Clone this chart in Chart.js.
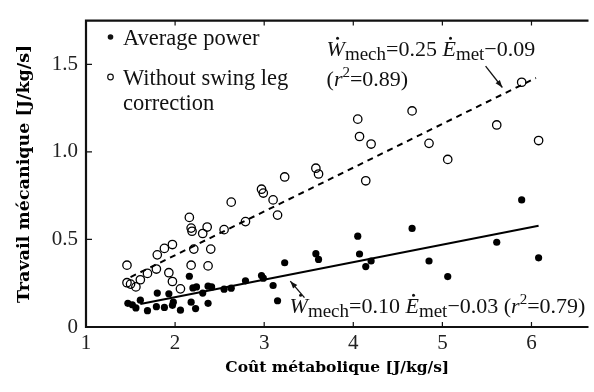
<!DOCTYPE html>
<html>
<head>
<meta charset="utf-8">
<script src="https://cdn.jsdelivr.net/npm/chart.js@4.4.0/dist/chart.umd.min.js"></script>
<style>
	html, body { margin: 0; padding: 0; background: #fff; }
	#wrap { width: 594px; height: 392px; }
</style>
</head>
<body>
<div id="wrap"><canvas id="chart" width="594" height="392"></canvas></div>
<script>
// average power (filled dots)
const avgX = [ 1.47, 1.52, 1.56, 1.61, 1.69, 1.79, 1.80, 1.88, 1.93, 1.97, 1.98, 2.06, 2.16, 2.18, 2.20, 2.23, 2.24, 2.31, 2.37, 2.37, 2.41,
	2.55, 2.63, 2.79, 2.97, 2.99, 3.10, 3.15, 3.23, 3.58, 3.61, 4.05, 4.07, 4.14, 4.20, 4.66, 4.85, 5.06, 5.61, 5.89, 6.08 ];
const avgY = [ 0.135, 0.127, 0.109, 0.153, 0.093, 0.116, 0.194, 0.112, 0.190, 0.124, 0.142, 0.096, 0.290, 0.142, 0.223, 0.105, 0.229, 0.194, 0.135, 0.233, 0.229,
	0.216, 0.222, 0.264, 0.294, 0.279, 0.237, 0.150, 0.367, 0.419, 0.386, 0.519, 0.417, 0.345, 0.377, 0.563, 0.377, 0.288, 0.484, 0.726, 0.395 ];

// without swing leg correction (open circles)
const noSwingX = [ 1.46, 1.46, 1.50, 1.56, 1.61, 1.69, 1.79, 1.80, 1.88, 1.93, 1.97, 1.97, 2.06, 2.16, 2.18, 2.19, 2.18, 2.21, 2.31, 2.36, 2.37,
	2.40, 2.55, 2.63, 2.79, 2.97, 2.99, 3.10, 3.15, 3.23, 3.58, 3.61, 4.05, 4.07, 4.14, 4.20, 4.66, 4.85, 5.06, 5.61, 5.89, 6.08 ];
const noSwingY = [ 0.253, 0.353, 0.245, 0.229, 0.270, 0.306, 0.331, 0.412, 0.449, 0.310, 0.260, 0.471, 0.218, 0.626, 0.565, 0.547, 0.353, 0.445, 0.534, 0.571, 0.349,
	0.445, 0.556, 0.713, 0.602, 0.787, 0.765, 0.726, 0.639, 0.857, 0.907, 0.874, 1.187, 1.088, 0.835, 1.045, 1.234, 1.049, 0.957, 1.154, 1.398, 1.065 ];

const xTicks = [ 1, 2, 3, 4, 5, 6 ];
const yTicks = [ 0, 0.5, 1.0, 1.5 ];

// regression lines: W = slope * E + intercept
const fitAvg = { slope: 0.10, intercept: -0.03, from: 1.61, to: 6.08 };
const fitNoSwing = { slope: 0.25, intercept: -0.09, from: 1.50, to: 6.05 };

const SERIF = '"Liberation Serif", "Times New Roman", serif';

function fitPoints( fit ) {
	return [ fit.from, fit.to ].map( x => ( { x: x, y: fit.slope * x + fit.intercept } ) );
}

function zip( xs, ys ) {
	return xs.map( ( x, i ) => ( { x: x, y: ys[ i ] } ) );
}

// text with dotted letters, subscripts and superscripts
function drawRich( ctx, x, y, parts ) {
	let cx = x;
	parts.forEach( p => {
		const size = p.sub ? 19 : p.sup ? 15 : 22;
		ctx.font = ( p.it ? "italic " : "" ) + size + "px " + SERIF;
		const dy = p.sub ? 4 : p.sup ? -9 : 0;
		ctx.fillText( p.t, cx, y + dy );
		const w = ctx.measureText( p.t ).width;
		if ( p.dot ) {
			ctx.beginPath();
			ctx.arc( cx + w * 0.6, y - 18, 1.5, 0, Math.PI * 2 );
			ctx.fill();
		}
		cx += w;
	} );
}

function arrow( ctx, x0, y0, x1, y1 ) {
	const a = Math.atan2( y1 - y0, x1 - x0 );
	ctx.beginPath();
	ctx.moveTo( x0, y0 );
	ctx.lineTo( x1, y1 );
	ctx.stroke();
	ctx.beginPath();
	ctx.moveTo( x1, y1 );
	ctx.lineTo( x1 - 8 * Math.cos( a - 0.35 ), y1 - 8 * Math.sin( a - 0.35 ) );
	ctx.lineTo( x1 - 8 * Math.cos( a + 0.35 ), y1 - 8 * Math.sin( a + 0.35 ) );
	ctx.closePath();
	ctx.fill();
}

const framePlugin = {
	id: "frame",
	afterDraw( chart ) {
		const { ctx, chartArea: a, scales } = chart;
		const xs = scales.x, ys = scales.y;
		ctx.save();
		ctx.strokeStyle = "#111";
		ctx.fillStyle = "#111";

		// box (right side is cut off)
		ctx.lineWidth = 2.2;
		ctx.beginPath();
		ctx.moveTo( a.right, a.top );
		ctx.lineTo( a.left, a.top );
		ctx.lineTo( a.left, a.bottom );
		ctx.lineTo( a.right, a.bottom );
		ctx.stroke();

		// inward ticks
		ctx.lineWidth = 1.2;
		ctx.beginPath();
		xTicks.slice( 1 ).forEach( v => {
			const px = xs.getPixelForValue( v );
			ctx.moveTo( px, a.bottom ); ctx.lineTo( px, a.bottom - 5 );
			ctx.moveTo( px, a.top ); ctx.lineTo( px, a.top + 5 );
		} );
		yTicks.slice( 1 ).forEach( v => {
			const py = ys.getPixelForValue( v );
			ctx.moveTo( a.left, py ); ctx.lineTo( a.left + 6, py );
		} );
		ctx.stroke();

		// legend
		ctx.textBaseline = "alphabetic";
		ctx.font = "22.5px " + SERIF;
		ctx.beginPath();
		ctx.arc( a.left + 24.5, 37, 2.8, 0, Math.PI * 2 );
		ctx.fill();
		ctx.fillText( "Average power", a.left + 37, 45 );
		ctx.lineWidth = 1.2;
		ctx.beginPath();
		ctx.arc( a.left + 24.5, 77, 2.8, 0, Math.PI * 2 );
		ctx.stroke();
		ctx.fillText( "Without swing leg", a.left + 37, 85 );
		ctx.fillText( "correction", a.left + 37, 110 );

		// equations
		const X = v => xs.getPixelForValue( v );
		const Y = v => ys.getPixelForValue( v );
		drawRich( ctx, X( 3.70 ), Y( 1.546 ), [
			{ t: "W", it: true, dot: true }, { t: "mech", sub: true }, { t: "=0.25 " },
			{ t: "E", it: true, dot: true }, { t: "met", sub: true }, { t: "\u22120.09" }
		] );
		drawRich( ctx, X( 3.70 ), Y( 1.374 ), [
			{ t: "(" }, { t: "r", it: true }, { t: "2", sup: true }, { t: "=0.89)" }
		] );
		drawRich( ctx, X( 3.285 ), Y( 0.078 ), [
			{ t: "W", it: true, dot: true }, { t: "mech", sub: true }, { t: "=0.10 " },
			{ t: "E", it: true, dot: true }, { t: "met", sub: true }, { t: "\u22120.03 (" },
			{ t: "r", it: true }, { t: "2", sup: true }, { t: "=0.79)" }
		] );

		ctx.lineWidth = 1.3;
		arrow( ctx, X( 5.485 ), Y( 1.490 ), X( 5.673 ), Y( 1.368 ) );
		arrow( ctx, X( 3.452 ), Y( 0.168 ), X( 3.293 ), Y( 0.262 ) );
		ctx.restore();
	}
};

const tickFont = { family: SERIF, size: 21 };
const xTitleFont = { family: '"DejaVu Serif", serif', size: 15.5, weight: "bold" };
const yTitleFont = { family: '"DejaVu Serif", serif', size: 17.5, weight: "bold" };

new Chart( document.getElementById( "chart" ), {
	type: "scatter",
	data: {
		datasets: [
			{
				label: "Average power",
				data: zip( avgX, avgY ),
				pointRadius: 3.6,
				pointBackgroundColor: "#000",
				pointBorderWidth: 0,
				order: 2
			}
			, {
				label: "Without swing leg correction",
				data: zip( noSwingX, noSwingY ),
				pointRadius: 4.2,
				pointBackgroundColor: "rgba(0,0,0,0)",
				pointBorderColor: "#000",
				pointBorderWidth: 1.3,
				order: 2
			}
			, {
				type: "line",
				label: "fit avg",
				data: fitPoints( fitAvg ),
				borderColor: "#000",
				borderWidth: 2,
				pointRadius: 0,
				order: 1
			}
			, {
				type: "line",
				label: "fit no swing",
				data: fitPoints( fitNoSwing ),
				borderColor: "#000",
				borderWidth: 2,
				borderDash: [ 6, 5 ],
				pointRadius: 0,
				order: 1
			}
		]
	},
	options: {
		responsive: false,
		animation: false,
		devicePixelRatio: 1,
		layout: { padding: { top: 10, right: 0, left: 0, bottom: 0 } },
		plugins: {
			legend: { display: false },
			tooltip: { enabled: false }
		},
		scales: {
			x: {
				type: "linear",
				min: 1,
				max: 6.64,
				afterBuildTicks: s => { s.ticks = xTicks.map( v => ( { value: v } ) ); },
				afterFit: s => { s.height = 65; },
				grid: { display: false, drawTicks: false, tickLength: 0 },
				border: { display: false },
				ticks: { font: tickFont, color: "#222", padding: 4, maxRotation: 0, autoSkip: false },
				title: { display: true, text: "Coût métabolique [J/kg/s]", font: xTitleFont, color: "#000", padding: { top: 0, bottom: 15 } }
			},
			y: {
				type: "linear",
				min: 0,
				max: 1.75,
				afterBuildTicks: s => { s.ticks = yTicks.map( v => ( { value: v } ) ); },
				afterFit: s => { s.width = 86; },
				grid: { display: false, drawTicks: false, tickLength: 0 },
				border: { display: false },
				ticks: { font: tickFont, color: "#222", padding: 8, callback: v => v === 0 ? "0" : v.toFixed( 1 ) },
				title: { display: true, text: "Travail mécanique [J/kg/s]", font: yTitleFont, color: "#000", padding: { top: 14, bottom: 0 } }
			}
		}
	},
	plugins: [ framePlugin ]
} );
</script>
</body>
</html>
